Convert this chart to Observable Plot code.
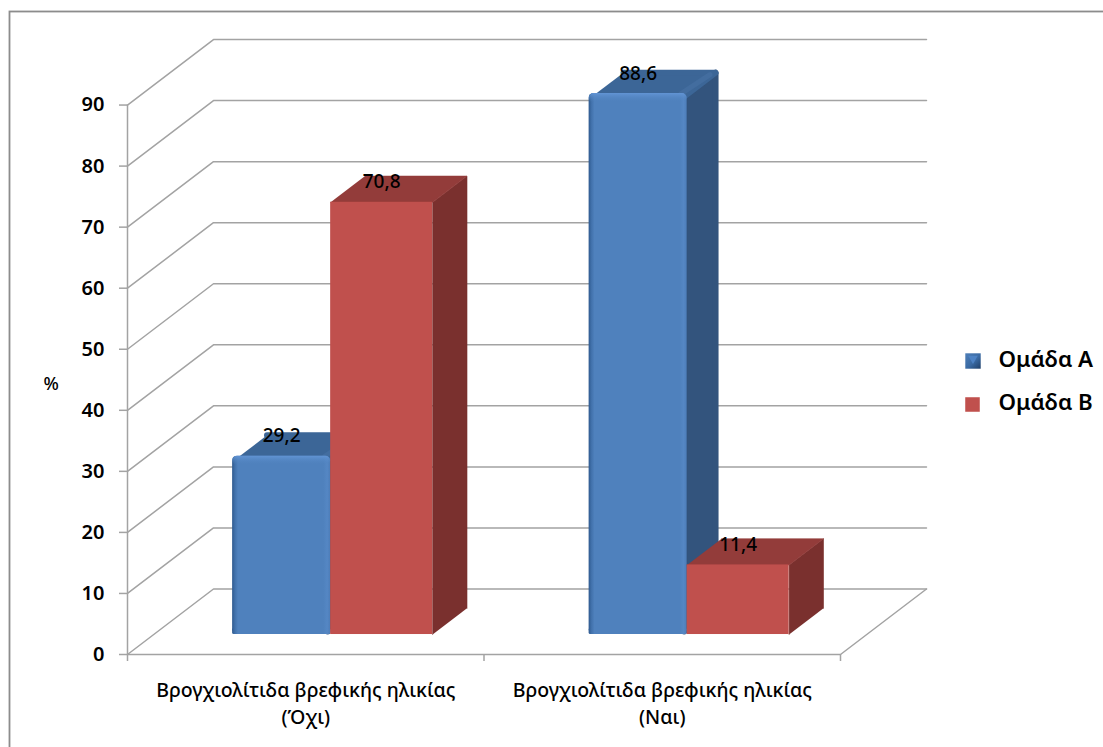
<!DOCTYPE html>
<html>
<head>
<meta charset="utf-8">
<script src="https://cdn.jsdelivr.net/npm/d3@7"></script>
<script src="https://cdn.jsdelivr.net/npm/@observablehq/plot@0.6"></script>
<style>
  html, body { margin: 0; padding: 0; background: #fff; overflow: hidden; }
  svg { display: block; }
</style>
</head>
<body>
<div id="chart"></div>
<script>
// Values
const categories = ["Βρογχιολίτιδα βρεφικής ηλικίας\n(Όχι)", "Βρογχιολίτιδα βρεφικής ηλικίας\n(Ναι)"];
const seriesNames = ["Ομάδα Α", "Ομάδα Β"];
const groupA = [29.2, 88.6];
const groupB = [70.8, 11.4];
const yTicks = [0, 10, 20, 30, 40, 50, 60, 70, 80, 90];
const xTicks = [0, 1, 2];

// Oblique projection: depth 0 is the front plane, depth 1 the back wall
const shearX = 0.2412;
const shearY = 10.73;
const project = (x, v, depth) => ({x: x + depth * shearX, y: v + depth * shearY});

// Bar layout in category units
const barFront = 0.305, barBack = 0.705, barBackA = 0.67;
const groupStart = 0.2213, widthA = 0.275, widthB = 0.286;

// Corner rounding of the beveled bars, in x and value units
const insetX = 0.0084, insetV = 0.49;

const barsA = groupA.map((v, i) => ({i, v, x1: i + groupStart, x2: i + groupStart + widthA}));
const barsB = groupB.map((v, i) => ({i, v, x1: i + groupStart + widthA, x2: i + groupStart + widthA + widthB}));

const palette = {
  A: {top: "#3c6697", side: "#33547d"},
  B: {top: "#933c3a", side: "#7a302e"}
};

const poly = (id, pts) => pts.map(p => ({id, ...p}));

const frontRect = b => {
  const f1 = project(b.x1, 0, barFront), f2 = project(b.x2, b.v, barFront);
  return {x1: f1.x, x2: f2.x, y1: f1.y, y2: f2.y};
};

// Wall and floor grid
const gridRows = yTicks.flatMap(t => poly(t, [project(0, t, 0), project(0, t, 1), project(2, t, 1)]));
const floorRows = poly("floor", [project(0, 0, 0), project(2, 0, 0), project(2, 0, 1)]);
const axisRows = [project(0, 0, 0), project(0, 90, 0)];

const gridColor = "#a3a3a3";
const font = "'Noto Sans', sans-serif";

// Blue bars: rounded silhouette made from inset faces with a round-joined stroke
function beveledBar(b) {
  const c = palette.A;
  const left = b.x1 + insetX, right = b.x2 - insetX, top = b.v - insetV;
  const f = frontRect(b);
  const side = poly("s", [
    project(right, insetV, barFront), project(right, top, barFront),
    project(right, top, barBackA), project(right, insetV, barBackA)
  ]);
  const face = poly("t", [
    project(left, top, barFront), project(right, top, barFront),
    project(right, top, barBackA), project(left, top, barBackA)
  ]);
  const edge = poly("e", [project(b.x2 - insetX * 2, b.v, barFront), project(b.x2 - insetX * 2, b.v - insetV, barBackA - 0.03)]);
  const join = {x: "x", y: "y", strokeWidth: 6, strokeLinejoin: "round", strokeLinecap: "round"};
  return [
    Plot.line(side, {...join, fill: c.side, stroke: c.side}),
    Plot.line(face, {...join, fill: c.top, stroke: c.top}),
    Plot.line(edge, {x: "x", y: "y", stroke: "#436d9f", strokeWidth: 5, strokeLinecap: "round"}),
    Plot.rect([f], {x1: "x1", x2: "x2", y1: "y1", y2: "y2", fill: "url(#blueFront)", rx: 5}),
    Plot.rect([f], {x1: "x1", x2: "x2", y1: "y1", y2: d => d.y1 + 1, fill: "url(#blueFront)", rx: 1.5}),
    Plot.rect([f], {
      x1: "x1", x2: "x2", y2: "y2", y1: d => d.y2 - 1.5,
      fill: "url(#blueBevel)", rx: 5
    })
  ];
}

// Red bars: plain box with three flat faces
function flatBar(b) {
  const c = palette.B;
  const f = frontRect(b);
  const side = poly("s", [
    project(b.x2, 0, barFront), project(b.x2, b.v, barFront),
    project(b.x2, b.v, barBack), project(b.x2, 0, barBack)
  ]);
  const face = poly("t", [
    project(b.x1, b.v, barFront), project(b.x2, b.v, barFront),
    project(b.x2, b.v, barBack), project(b.x1, b.v, barBack)
  ]);
  return [
    Plot.line(side, {x: "x", y: "y", fill: c.side, stroke: c.side, strokeWidth: 0.6}),
    Plot.line(face, {x: "x", y: "y", fill: c.top, stroke: c.top, strokeWidth: 0.6}),
    Plot.rect([f], {x1: "x1", x2: "x2", y1: "y1", y2: "y2", fill: "#c0504d"})
  ];
}

// Gradient definitions used by the blue bars and legend swatch
const defs = () => {
  const d = d3.create("svg:defs");
  const blue = d.append("linearGradient").attr("id", "blueFront");
  [[0, "#2f5a8f"], [0.03, "#4272ac"], [0.06, "#4f81bd"], [0.93, "#4f81bd"], [0.97, "#5587c4"], [1, "#4d7db8"]]
    .forEach(([o, col]) => blue.append("stop").attr("offset", o).attr("stop-color", col));
  const bevel = d.append("linearGradient").attr("id", "blueBevel").attr("x2", 0).attr("y2", 1);
  [[0, "#6396d6", 0.9], [1, "#4f81bd", 0]]
    .forEach(([o, col, a]) => bevel.append("stop").attr("offset", o).attr("stop-color", col).attr("stop-opacity", a));
  const swatch = d.append("linearGradient").attr("id", "blueSwatch").attr("x2", 1).attr("y2", 1);
  [[0, "#4f7fb8"], [0.55, "#3a6aa3"], [1, "#1f3f68"]]
    .forEach(([o, col]) => swatch.append("stop").attr("offset", o).attr("stop-color", col));
  return d.node();
};

const legendText = {frameAnchor: "top-left", dx: 998, textAnchor: "start", fontSize: 22.3, fontWeight: 600, fill: "#000"};

const chart = Plot.plot({
  width: 1103,
  height: 747,
  margin: 0,
  style: {background: "#fff", fontFamily: font, overflow: "hidden"},
  x: {domain: [-127 / 356.5, 976 / 356.5], range: [0, 1103], axis: null},
  y: {domain: [-93 / 6.105, 654 / 6.105], range: [747, 0], axis: null},
  marks: [
    defs,
    Plot.frame({stroke: "#8c8c8c", strokeWidth: 1.8, insetLeft: 9, insetTop: 11, insetRight: -20, insetBottom: -20}),

    // Grid and axes
    Plot.line(gridRows, {x: "x", y: "y", z: "id", stroke: gridColor, strokeWidth: 1.5}),
    Plot.line(floorRows, {x: "x", y: "y", stroke: gridColor, strokeWidth: 1.5}),
    Plot.line(axisRows, {x: "x", y: "y", stroke: gridColor, strokeWidth: 1.5}),
    Plot.axisY(yTicks, {x: 0, anchor: "left", label: null, tickSize: 8, tickPadding: 15, stroke: gridColor, strokeWidth: 1.5, fill: "#000", fontSize: 20, fontWeight: 600}),
    Plot.axisX(xTicks, {y: 0, anchor: "bottom", label: null, tickSize: 7, tickFormat: () => "", stroke: gridColor, strokeWidth: 1.5}),

    // Bars, one category at a time so nearer faces overlap correctly
    ...[0, 1].flatMap(i => [...beveledBar(barsA[i]), ...flatBar(barsB[i])]),

    // Value labels sit on the top faces
    Plot.text([...barsA, ...barsB], {
      x: b => project((b.x1 + b.x2) / 2, b.v, barFront).x,
      y: b => project((b.x1 + b.x2) / 2, b.v, barFront).y,
      text: b => b.v.toFixed(1).replace(".", ","),
      dy: -20, fontSize: 19, fontWeight: 500, fill: "#000"
    }),

    // Category labels under the floor
    Plot.text(categories, {
      x: (d, i) => i + 0.5, y: () => 0, text: d => d,
      dy: 47.5, fontSize: 19.5, fontWeight: 500, lineHeight: 1.38, fill: "#000"
    }),

    // Unit label
    Plot.text(["%"], {frameAnchor: "top-left", dx: 43, dy: 377, fontSize: 18, fontWeight: 500, fill: "#000"}),

    // Legend
    Plot.dot([0], {frameAnchor: "top-left", dx: 972.5, dy: 360.5, symbol: "square", r: 8.7, fill: "url(#blueSwatch)"}),
    Plot.dot([0], {frameAnchor: "top-left", dx: 972.5, dy: 358, symbol: "triangle", rotate: 180, r: 3.6, fill: "#4d82c4"}),
    Plot.dot([0], {frameAnchor: "top-left", dx: 972, dy: 404, symbol: "square", r: 8.2, fill: "#c0504d"}),
    Plot.text([seriesNames[0]], {...legendText, dy: 351}),
    Plot.text([seriesNames[1]], {...legendText, dy: 394})
  ]
});

document.getElementById("chart").appendChild(chart);
</script>
</body>
</html>
